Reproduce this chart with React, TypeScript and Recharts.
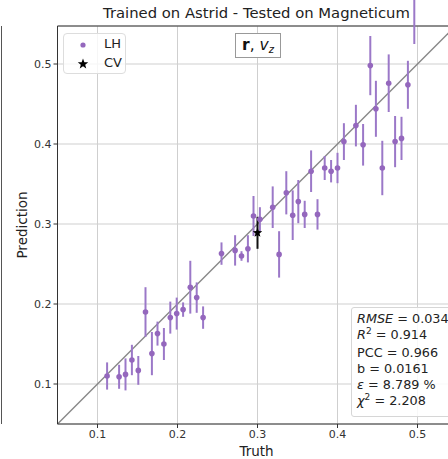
import {
  ScatterChart, Scatter, XAxis, YAxis, CartesianGrid, ErrorBar, ReferenceLine,
} from 'recharts';

// LH simulations: truth, prediction, 1-sigma error
const truthLH = [
  0.112, 0.127, 0.135, 0.143, 0.151, 0.160, 0.168, 0.175, 0.183, 0.191, 0.199,
  0.207, 0.216, 0.224, 0.232, 0.255, 0.272, 0.280, 0.288, 0.295, 0.303, 0.319,
  0.327, 0.336, 0.344, 0.351, 0.359, 0.367, 0.375, 0.384, 0.392, 0.400, 0.408,
  0.423, 0.432, 0.441, 0.448, 0.456, 0.464, 0.472, 0.480, 0.488, 0.496,
];
const predLH = [
  0.110, 0.109, 0.112, 0.130, 0.117, 0.190, 0.138, 0.163, 0.150, 0.183, 0.188,
  0.193, 0.221, 0.208, 0.183, 0.263, 0.267, 0.260, 0.269, 0.310, 0.306, 0.321,
  0.262, 0.339, 0.311, 0.328, 0.312, 0.366, 0.312, 0.370, 0.366, 0.370, 0.403,
  0.423, 0.399, 0.498, 0.444, 0.370, 0.476, 0.403, 0.407, 0.474, 0.560,
];
const errLH = [
  0.017, 0.015, 0.020, 0.019, 0.018, 0.031, 0.027, 0.015, 0.020, 0.020, 0.020,
  0.009, 0.033, 0.019, 0.014, 0.014, 0.019, 0.006, 0.017, 0.025, 0.015, 0.026,
  0.029, 0.027, 0.031, 0.027, 0.017, 0.026, 0.019, 0.015, 0.014, 0.019, 0.023,
  0.026, 0.026, 0.037, 0.035, 0.034, 0.036, 0.032, 0.027, 0.030, 0.035,
];

// CV simulation
const truthCV = [0.300];
const predCV = [0.289];
const errCV = [0.020];

const ticks = [0.1, 0.2, 0.3, 0.4, 0.5];
const lo = 0.05;
const hi = 0.5475;

const PURPLE = '#9467bd';
const FONT = '"DejaVu Sans", sans-serif';

const lhData = truthLH.map((x, i) => ({ x, y: predLH[i], err: errLH[i] }));
const cvData = truthCV.map((x, i) => ({ x, y: predCV[i], err: errCV[i] }));

function starPoints(cx: number, cy: number, r: number) {
  const pts: string[] = [];
  for (let i = 0; i < 10; i++) {
    const rr = i % 2 === 0 ? r : r * 0.42;
    const a = -Math.PI / 2 + (i * Math.PI) / 5;
    pts.push(`${cx + rr * Math.cos(a)},${cy + rr * Math.sin(a)}`);
  }
  return pts.join(' ');
}

// eslint-disable-next-line @typescript-eslint/no-explicit-any
const Dot = (p: any) => <circle cx={p.cx} cy={p.cy} r={2.8} fill={PURPLE} />;
// eslint-disable-next-line @typescript-eslint/no-explicit-any
const Star = (p: any) => <polygon points={starPoints(p.cx, p.cy, 5)} fill="#000" />;

const sup = { fontSize: 9, position: 'relative' as const, top: -5 };

export default function App() {
  return (
    <div style={{
      position: 'absolute', left: 0, top: 0, width: 448, height: 459, overflow: 'hidden',
      background: '#fff', fontFamily: FONT,
    }}>
      {/* edge of the neighbouring panel */}
      <div style={{ position: 'absolute', left: 1, top: 26, width: 1, height: 398, background: '#555' }} />
      <div style={{
        position: 'absolute', left: 57.5, width: 398, top: 4, textAlign: 'center',
        fontSize: 14.8, color: '#222', whiteSpace: 'nowrap',
      }}>
        Trained on Astrid - Tested on Magneticum
      </div>
      <ScatterChart width={470} height={459} margin={{ top: 26, right: 14.5, bottom: 0, left: 0 }}
        style={{ position: 'absolute', left: 0, top: 0 }}>
        <CartesianGrid stroke="#cfcfcf" strokeWidth={1} />
        <XAxis
          type="number" dataKey="x" domain={[lo, hi]} ticks={ticks} allowDataOverflow
          height={35} tickSize={4} tickMargin={2}
          stroke="#333" tick={{ fontSize: 11, fill: '#333', fontFamily: FONT }}
          tickFormatter={v => v.toFixed(1)}
          // eslint-disable-next-line @typescript-eslint/no-explicit-any
          label={({ viewBox }: any) => (
            <text x={viewBox.x + viewBox.width / 2} y={456} textAnchor="middle"
              fontSize={13.5} fill="#222" fontFamily={FONT}>Truth</text>
          )}
        />
        <YAxis
          type="number" dataKey="y" domain={[lo, hi]} ticks={ticks} allowDataOverflow
          width={57.5} tickSize={4} tickMargin={2}
          stroke="#333" tick={{ fontSize: 11, fill: '#333', fontFamily: FONT }}
          tickFormatter={v => v.toFixed(1)}
          // eslint-disable-next-line @typescript-eslint/no-explicit-any
          label={({ viewBox }: any) => (
            <text x={22} y={viewBox.y + viewBox.height / 2} textAnchor="middle" dominantBaseline="central"
              transform={`rotate(-90, 22, ${viewBox.y + viewBox.height / 2})`}
              fontSize={13.5} fill="#222" fontFamily={FONT}>Prediction</text>
          )}
        />
        <ReferenceLine y={hi} stroke="#333" strokeWidth={1} />
        <ReferenceLine segment={[{ x: lo, y: lo }, { x: hi, y: hi }]} stroke="#888" strokeWidth={1.5} />
        <Scatter name="LH" data={lhData} shape={Dot} isAnimationActive={false}>
          <ErrorBar dataKey="err" direction="y" width={0} stroke="#9b78c8" strokeWidth={2} isAnimationActive={false} />
        </Scatter>
        <Scatter name="CV" data={cvData} shape={Star} isAnimationActive={false}>
          <ErrorBar dataKey="err" direction="y" width={0} stroke="#111" strokeWidth={2} isAnimationActive={false} />
        </Scatter>
      </ScatterChart>
      {/* legend */}
      <div style={{
        position: 'absolute', left: 63, top: 33, width: 61, height: 39, border: '1px solid #ddd',
        borderRadius: 4, background: 'rgba(255,255,255,0.8)', fontSize: 13, color: '#222',
      }}>
        <svg width={30} height={39} style={{ position: 'absolute', left: 0, top: 0 }}>
          <circle cx={19} cy={11} r={2.6} fill={PURPLE} />
          <polygon points={starPoints(19, 30, 5.5)} fill="#000" />
        </svg>
        <span style={{ position: 'absolute', left: 40, top: 2, lineHeight: '16px' }}>LH</span>
        <span style={{ position: 'absolute', left: 40, top: 21, lineHeight: '16px' }}>CV</span>
      </div>
      <div style={{
        position: 'absolute', left: 235, top: 33, width: 44, height: 23, border: '1px solid #999',
        background: '#fff', textAlign: 'center', lineHeight: '23px', fontSize: 15.5, color: '#111',
        whiteSpace: 'nowrap',
      }}>
        <b>r</b>, <i>v</i><span style={{ fontSize: 10, fontStyle: 'italic', position: 'relative', top: 3 }}>z</span>
      </div>
      <div style={{
        position: 'absolute', left: 351, top: 307, width: 110, height: 110, border: '1px solid #d6d6d6',
        borderRadius: 3, background: 'rgba(255,255,255,0.85)', fontSize: 12.8, color: '#222',
        padding: '3px 0 0 5px', boxSizing: 'border-box', lineHeight: '16.3px', whiteSpace: 'nowrap',
      }}>
        <div><i>RMSE</i> = 0.034</div>
        <div><i>R</i><span style={sup}>2</span> = 0.914</div>
        <div>PCC = 0.966</div>
        <div>b = 0.0161</div>
        <div><i>ε</i> = 8.789 %</div>
        <div><i>χ</i><span style={sup}>2</span> = 2.208</div>
      </div>
    </div>
  );
}
